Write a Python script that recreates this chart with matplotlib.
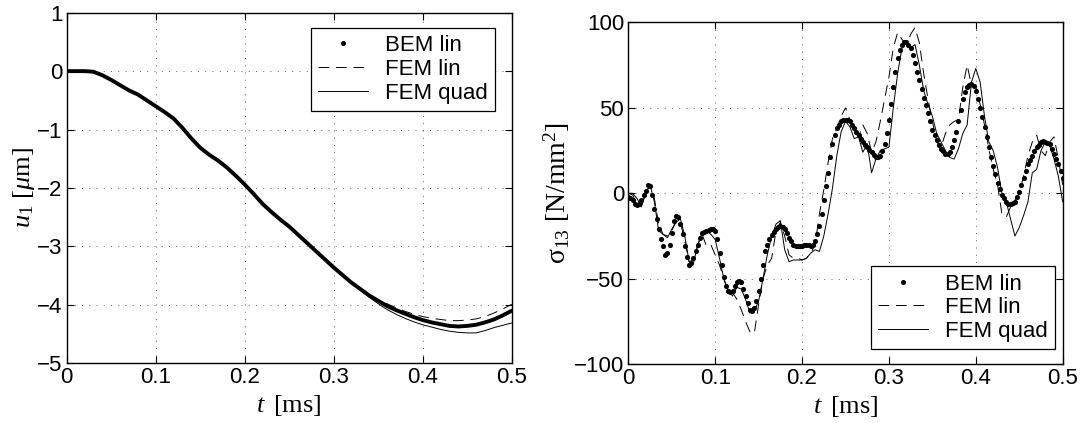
import numpy as np
import matplotlib
matplotlib.use("Agg")
import matplotlib.pyplot as plt
from matplotlib.lines import Line2D

plt.rcParams['font.family'] = ['Liberation Sans', 'DejaVu Sans']
plt.rcParams['mathtext.fontset'] = 'custom'
plt.rcParams['mathtext.rm'] = 'Liberation Serif'
plt.rcParams['mathtext.it'] = 'Liberation Serif:italic'
plt.rcParams['mathtext.bf'] = 'Liberation Serif:bold'
plt.rcParams['axes.unicode_minus'] = True

# ---------------- data: left panel (displacement u1) ----------------
t_left = np.round(np.arange(51) * 0.01, 3)
u_bem = [0, 0, 0, -0.01, -0.07, -0.15, -0.24, -0.33, -0.40, -0.50,
         -0.60, -0.70, -0.81, -0.97, -1.15, -1.31, -1.43, -1.53, -1.65, -1.79,
         -1.94, -2.10, -2.27, -2.41, -2.54, -2.66, -2.80, -2.94, -3.08, -3.22,
         -3.36, -3.49, -3.62, -3.73, -3.84, -3.93, -4.02, -4.09, -4.15, -4.21,
         -4.26, -4.30, -4.33, -4.36, -4.37, -4.36, -4.34, -4.30, -4.25, -4.18,
         -4.10]
u_fem_lin = [0, 0, 0, -0.01, -0.07, -0.15, -0.24, -0.33, -0.40, -0.50,
             -0.60, -0.70, -0.81, -0.97, -1.15, -1.31, -1.43, -1.53, -1.65, -1.79,
             -1.94, -2.10, -2.27, -2.41, -2.54, -2.66, -2.80, -2.94, -3.08, -3.22,
             -3.36, -3.49, -3.62, -3.73, -3.84, -3.92, -3.98, -4.05, -4.11, -4.16,
             -4.20, -4.23, -4.25, -4.27, -4.27, -4.26, -4.24, -4.20, -4.14, -4.07,
             -3.99]
u_fem_quad = [0, 0, 0, -0.01, -0.07, -0.15, -0.24, -0.33, -0.40, -0.50,
              -0.60, -0.70, -0.81, -0.97, -1.15, -1.31, -1.43, -1.53, -1.65, -1.79,
              -1.94, -2.10, -2.27, -2.41, -2.54, -2.66, -2.80, -2.94, -3.08, -3.22,
              -3.36, -3.49, -3.62, -3.75, -3.87, -3.98, -4.08, -4.16, -4.23, -4.29,
              -4.34, -4.38, -4.42, -4.45, -4.47, -4.48, -4.48, -4.44, -4.39, -4.35,
              -4.31]

# ---------------- data: right panel (stress sigma13) ----------------
t_bem = np.round(np.arange(201) * 0.0025, 4)
s_bem = [-2.3, -3, -4, -6, -7, -6.5, -4, -1, 1.5, 5,
         4, -1, -9, -15, -21, -27, -31, -36, -35, -30,
         -23, -16, -13, -14, -18, -24, -31, -37, -42, -41,
         -38, -34, -30, -26, -23, -22.5, -22, -21.5, -21, -21,
         -22, -27, -35, -42, -49, -54, -57, -58, -57, -54,
         -52, -51, -52, -56, -60, -64, -68, -69, -67, -63,
         -57, -50, -42, -34, -30, -27, -24.5, -22.5, -21, -19.5,
         -19, -19.5, -21, -23.5, -26, -28, -30, -31, -31, -31,
         -31, -30, -30, -30.5, -31, -30, -28, -24, -19, -12,
         -4, 4, 12, 21, 29, 34, 38, 40, 42, 43,
         43, 43, 42, 40, 38, 36, 34, 32, 30, 28.5,
         27, 25.5, 24, 22.5, 21, 21, 22, 25, 29, 35,
         43, 52, 62, 71, 79, 84, 87, 88.5, 88.5, 87,
         85, 81, 76, 71, 66, 61, 56, 51.5, 47, 42,
         37, 34, 31, 28.5, 26, 24.5, 23, 23, 24, 27,
         31, 36, 42, 49, 55, 59, 62, 63.5, 64, 63,
         60, 55, 50, 44.5, 39, 33, 27, 21.5, 16, 11,
         6, 2.5, -1, -3, -5, -6, -6, -5.5, -5, -2,
         1, 5, 9, 13, 17, 19.5, 22, 24.5, 27, 28.5,
         30, 30.5, 30, 29.5, 29, 26, 23, 20, 17, 13,
         9]

t_fem = np.round(np.arange(101) * 0.005, 3)
s_fem_lin = [0, -1, -6, -7, 0, 5, -3, -18, -24, -25,
             -22, -16, -17, -28, -40, -39, -30, -24, -31, -30,
             -36, -42, -50, -58, -58, -62, -68, -75, -81, -82,
             -65, -50, -42, -38, -22, -17, -25, -36, -38, -38,
             -39, -38, -35, -30, -12, 2, 18, 32, 38, 45,
             50, 43, 36, 33, 40, 35, 24, 30, 42, 55,
             68, 85, 94, 90, 87, 93, 97, 88, 70, 55,
             42, 30, 27, 35, 40, 42, 43, 62, 75, 63,
             62, 52, 40, 26, 14, 5, -12, -14, -8, -4,
             0, 10, 22, 30, 34, 25, 22, 30, 33, 20,
             5]
s_fem_quad = [0, 0, -3, -8, 0, 5, -5, -22, -24, -26,
              -21, -17, -15, -25, -40, -41, -30, -23, -22, -24,
              -27, -38, -50, -57, -60, -55, -56, -62, -70, -69,
              -63, -50, -36, -25, -18, -16, -33, -40, -39, -39,
              -39, -38, -35, -33, -34, -25, -12, 3, 22, 36,
              42, 39, 32, 33, 24, 29, 12, 20, 25, 26,
              27, 50, 70, 85, 88, 85, 87, 75, 60, 52,
              45, 35, 30, 25, 21, 20, 26, 35, 40, 65,
              73, 65, 45, 30, 25, 15, 0, -5, -15, -25,
              -20, -13, -5, 12, 14, 25, 30, 28, 20, 10,
              -5]

labels = ["BEM lin", "FEM lin", "FEM quad"]
x_ticks = [0, 0.1, 0.2, 0.3, 0.4, 0.5]
x_ticklabels = ["0", "0.1", "0.2", "0.3", "0.4", "0.5"]
yl_ticks = [-5, -4, -3, -2, -1, 0, 1]
yr_ticks = [-100, -50, 0, 50, 100]

# ---------------- figure ----------------
W, H = 1081, 423
fig = plt.figure(figsize=(W / 100, H / 100), dpi=100)
axL = fig.add_axes([66.7 / W, 1 - 363.3 / H, 445 / W, 350.6 / H])
axR = fig.add_axes([628.3 / W, 1 - 364.3 / H, 434.4 / W, 342 / H])

FS = 16
LFS = 19
dash = (0, (11, 7))
grid_ls = (0, (1.2, 7.5))

def style(ax):
    ax.set_xlim(0, 0.5)
    ax.set_xticks(x_ticks)
    ax.set_xticklabels(x_ticklabels)
    ax.tick_params(direction='in', top=True, right=True, length=5, width=0.8,
                   labelsize=FS, pad=3, colors='black')
    for sp in ax.spines.values():
        sp.set_linewidth(1.0)
        sp.set_color('black')
    ax.grid(True, color='0.3', linestyle=grid_ls, linewidth=0.6)
    ax.set_axisbelow(True)
    ax.set_xlabel(r"$t\,$ [ms]", fontfamily='Liberation Serif', fontsize=LFS, labelpad=3)

def make_legend(ax, **kw):
    handles = [Line2D([], [], color='black', marker='o', markersize=2.6, linestyle='none'),
               Line2D([], [], color='black', linestyle=dash, linewidth=0.7),
               Line2D([], [], color='black', linestyle='-', linewidth=0.7)]
    leg = ax.legend(handles, labels, fontsize=FS, frameon=True, fancybox=False,
                    edgecolor='black', framealpha=1, borderpad=0.32, labelspacing=0.12,
                    handlelength=2.25, handletextpad=0.75, borderaxespad=0, **kw)
    leg.get_frame().set_linewidth(0.9)
    return leg

# left panel
axL.plot(t_left, u_fem_lin, color='black', linestyle=dash, linewidth=0.7)
axL.plot(t_left, u_fem_quad, color='black', linestyle='-', linewidth=0.7)
axL.plot(t_left, u_bem, color='black', linestyle='-', linewidth=2.8, solid_capstyle='round')
axL.set_ylim(-5, 1)
axL.set_yticks(yl_ticks)
style(axL)
axL.set_ylabel(r"$u_1$ [$\mu$m]", fontfamily='Liberation Serif', fontsize=LFS, labelpad=0)
make_legend(axL, loc='upper right', bbox_to_anchor=(0.9625, 0.956))

# right panel
axR.plot(t_fem, s_fem_lin, color='black', linestyle=dash, linewidth=0.7)
axR.plot(t_fem, s_fem_quad, color='black', linestyle='-', linewidth=0.7)
axR.plot(t_bem, s_bem, color='black', linestyle='none', marker='o', markersize=3.7,
         markeredgewidth=0)
axR.set_ylim(-100, 100)
axR.set_yticks(yr_ticks)
style(axR)
axR.set_ylabel("σ$_{13}$ [N/mm$^2$]", fontfamily='Liberation Serif', fontsize=LFS + 1, labelpad=1)
make_legend(axR, loc='lower right', bbox_to_anchor=(0.982, 0.0447))

fig.savefig("out.png", dpi=100)
